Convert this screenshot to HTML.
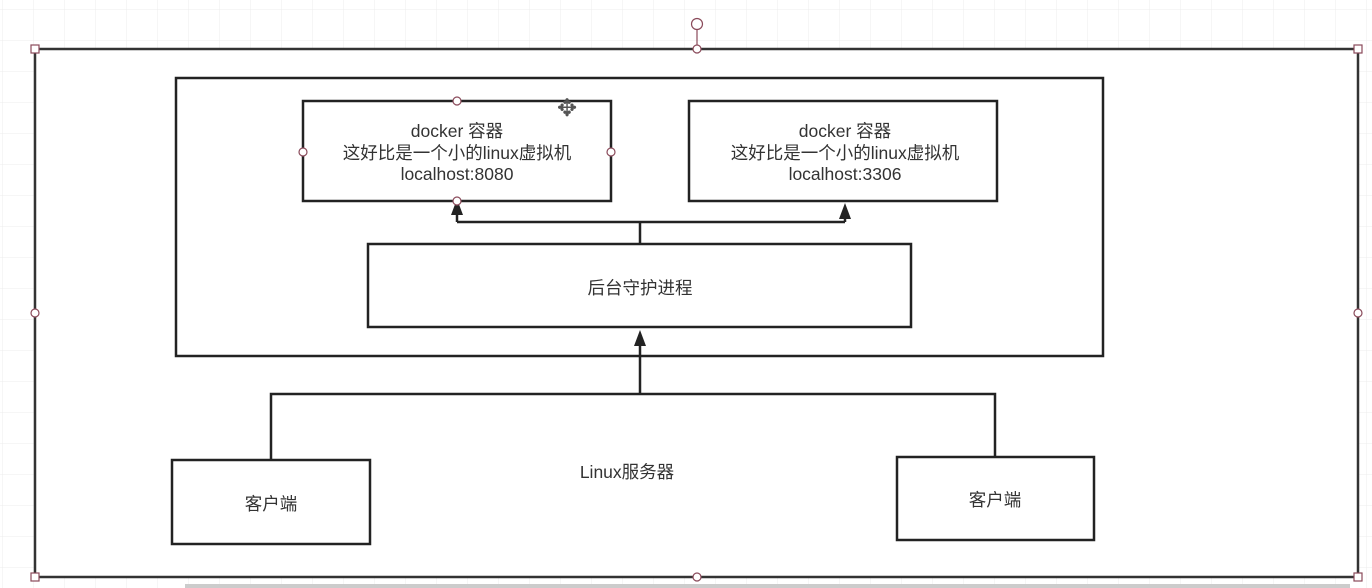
<!DOCTYPE html>
<html><head><meta charset="utf-8"><style>
html,body{margin:0;padding:0;background:#fff;}
svg{display:block;}
text{font-family:"Liberation Sans","Noto Sans CJK SC",sans-serif;font-size:17.5px;fill:#333;text-anchor:middle;}
</style></head><body>
<svg width="1372" height="588" viewBox="0 0 1372 588" xmlns="http://www.w3.org/2000/svg">
<defs>
<pattern id="g" width="31" height="31" patternUnits="userSpaceOnUse" x="3" y="10">
<path d="M31 0V31M0 31H31" fill="none" stroke="#ececec" stroke-width="1"/>
</pattern>
</defs>
<rect width="1372" height="588" fill="#fff"/>
<rect width="1372" height="588" fill="url(#g)"/>
<rect x="35" y="49" width="1323" height="528" fill="#fff" stroke="#333" stroke-width="2.5"/>
<rect x="185" y="584" width="1165" height="4" fill="#ccc"/>
<rect x="176" y="78" width="927" height="278" fill="none" stroke="#222" stroke-width="2.5"/>
<rect x="303" y="101" width="308" height="100" fill="#fff" stroke="#222" stroke-width="2.5"/>
<rect x="689" y="101" width="308" height="100" fill="#fff" stroke="#222" stroke-width="2.5"/>
<rect x="368" y="244" width="543" height="83" fill="#fff" stroke="#222" stroke-width="2.5"/>
<rect x="172" y="460" width="198" height="84" fill="#fff" stroke="#222" stroke-width="2.5"/>
<rect x="897" y="457" width="197" height="83" fill="#fff" stroke="#222" stroke-width="2.5"/>
<g fill="none" stroke="#222" stroke-width="2.5">
<path d="M640 244V222M457 222H845M457 222V212M845 222V212"/>
<path d="M271 460V394H995V457M640 394V340"/>
</g>
<g fill="#222">
<path d="M451 215L457 199L463 215Z"/>
<path d="M839 219L845 203L851 219Z"/>
<path d="M634 346L640 330L646 346Z"/>
</g>
<text x="457" y="137">docker 容器</text>
<text x="457" y="159">这好比是一个小的linux虚拟机</text>
<text x="457" y="180">localhost:8080</text>
<text x="845" y="137">docker 容器</text>
<text x="845" y="159">这好比是一个小的linux虚拟机</text>
<text x="845" y="180">localhost:3306</text>
<text x="640" y="294">后台守护进程</text>
<text x="271" y="510">客户端</text>
<text x="995" y="506">客户端</text>
<text x="627" y="478">Linux服务器</text>
<g fill="#fff" stroke="#8a4a5a" stroke-width="1.2">
<rect x="31" y="45" width="8" height="8"/>
<rect x="1354" y="45" width="8" height="8"/>
<rect x="31" y="573" width="8" height="8"/>
<rect x="1354" y="573" width="8" height="8"/>
<circle cx="697" cy="49" r="4"/>
<circle cx="697" cy="577" r="4"/>
<circle cx="35" cy="313" r="4"/>
<circle cx="1358" cy="313" r="4"/>
<circle cx="697" cy="24" r="5.5"/>
<circle cx="457" cy="101" r="4"/>
<circle cx="457" cy="201" r="4"/>
<circle cx="303" cy="152" r="4"/>
<circle cx="611" cy="152" r="4"/>
</g>
<path d="M697 30V45" stroke="#8a4a5a" stroke-width="1.2"/>
<text x="567" y="116" style="font-size:24px;fill:#555">✥</text>
</svg>
</body></html>
